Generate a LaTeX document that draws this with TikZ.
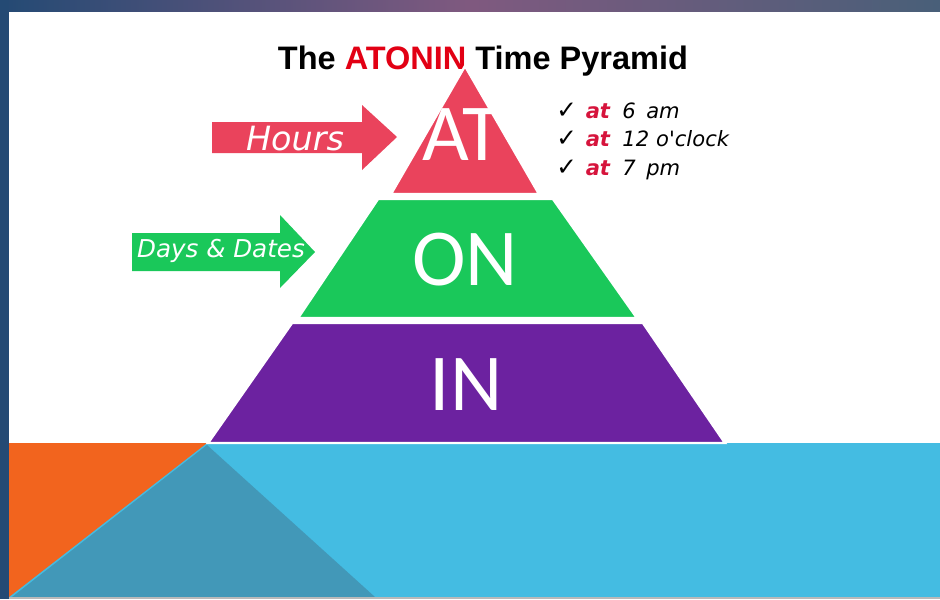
\documentclass[tikz,border=0pt]{standalone}
\usepackage{fontspec}
\usepackage{xcolor}
\usepackage{tikz}
\usetikzlibrary{positioning}
\setmainfont{Liberation Sans}
\newfontfamily\levelfont{Carlito}
\newfontfamily\handfont{DejaVu Sans}
\definecolor{PyrRed}{RGB}{234,67,92}
\definecolor{PyrGreen}{RGB}{26,200,90}
\definecolor{PyrPurple}{RGB}{108,34,160}
\definecolor{BandBlue}{RGB}{68,188,226}
\definecolor{BandTeal}{RGB}{66,152,184}
\definecolor{BandOrange}{RGB}{242,100,30}
\definecolor{EdgeNavy}{RGB}{36,74,116}
\definecolor{TitleRed}{RGB}{226,0,20}
\definecolor{AtRed}{RGB}{214,20,60}

\newcommand{\tickmark}{{\fontsize{14}{14}\selectfont\upshape ✓}}
\newcommand{\atword}{\textcolor{AtRed}{\bfseries at}}

\begin{document}
\begin{tikzpicture}[x=0.02cm, y=-0.02cm,
      seg/.style={draw=white, line width=1.4pt, line join=miter},
      lvl/.style={anchor=base, inner sep=0pt, text=white,
                  font=\levelfont\fontsize{46}{46}\selectfont},
      tag/.style={anchor=base, inner sep=0pt, text=white},
      tick/.style={anchor=base west, inner sep=0pt,
                   font=\handfont\itshape\fontsize{12}{14}\selectfont}
    ]
    \useasboundingbox (0,0) rectangle (940,599);
    \fill[white] (0,0) rectangle (940,599);

    % slide frame
    \shade[left color=EdgeNavy, right color=EdgeNavy!60!gray, middle color=violet!30!gray]
          (0,0) rectangle (940,11);
    \fill[EdgeNavy] (0,0) rectangle (9,599);
    \fill[BandBlue]   (9,443) rectangle (940,597);
    \fill[BandOrange] (9,443) -- (207,443) -- (9,597) -- cycle;
    \fill[BandTeal]   (207,445) -- (375,597) -- (12,597) -- cycle;
    \fill[gray!55]    (9,597) rectangle (940,599);

    \node[anchor=base, inner sep=0pt] (title) at (483,69)
          {\bfseries\fontsize{18.5}{20}\selectfont The \textcolor{TitleRed}{ATONIN} Time Pyramid};

    % pyramid
    \filldraw[seg, fill=PyrPurple] (208,443) -- (292,323) -- (643,323) -- (725,443) -- cycle;
    \filldraw[seg, fill=PyrGreen]  (298,318) -- (378,199) -- (553,199) -- (637,318) -- cycle;
    \filldraw[seg, fill=PyrRed]    (391,194) -- (465,66) -- (539,194) -- cycle;

    \node[lvl] (at) at (462,160) {AT};
    \node[lvl] (on) at (465,285) {ON};
    \node[lvl] (in) at (466,410) {IN};

    % block arrows
    \fill[PyrRed]   (212,122) -- (362,122) -- (362,105) -- (397,137)
                    -- (362,170) -- (362,153) -- (212,153) -- cycle;
    \fill[PyrGreen] (132,233) -- (280,233) -- (280,215) -- (315,252)
                    -- (280,288) -- (280,271) -- (132,271) -- cycle;

    \node[tag, font=\handfont\itshape\fontsize{19}{20}\selectfont] (hours) at (295,150) {Hours};
    \node[tag, font=\handfont\itshape\fontsize{14}{16}\selectfont] (days)  at (221,257) {Days \& Dates};

    % examples
    \node[tick] (ex1) at (556,118) {\tickmark\hspace{5pt}\atword\hspace{7pt}6\hspace{6pt}am};
    \node[tick] (ex2) at (556,146) {\tickmark\hspace{5pt}\atword\hspace{7pt}12\hspace{4pt}o'clock};
    \node[tick] (ex3) at (556,175) {\tickmark\hspace{5pt}\atword\hspace{7pt}7\hspace{6pt}pm};
  \end{tikzpicture}
\end{document}
